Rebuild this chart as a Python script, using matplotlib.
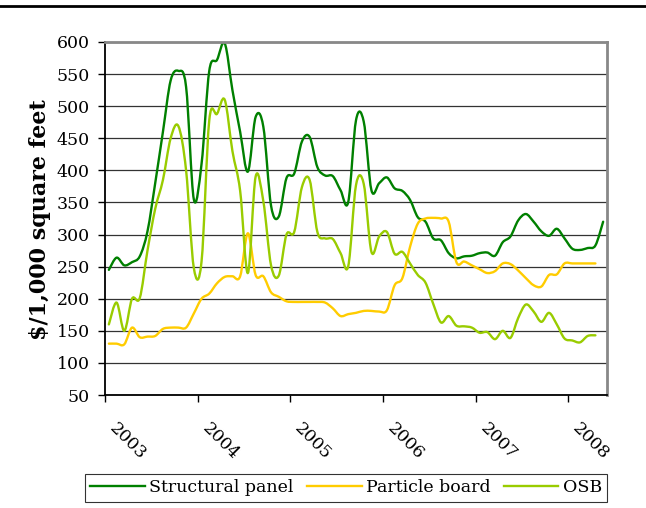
import numpy as np
import matplotlib
matplotlib.use("Agg")
import matplotlib.pyplot as plt
from matplotlib.path import Path
from matplotlib.patches import PathPatch
from matplotlib.lines import Line2D
import matplotlib.transforms as mtransforms

plt.rcParams['font.family'] = ['DejaVu Serif']

# monthly prices, Jan 2003 onwards ($/1,000 sq ft)
structural_panel = [245, 264, 252, 257, 266, 305, 380, 460, 540, 555,
                    530, 355, 410, 555, 572, 598, 525, 460, 398, 483,
                    468, 345, 328, 388, 395, 445, 452, 405, 392, 391,
                    369, 351, 478, 476, 369, 380, 389, 372, 368, 354,
                    327, 320, 294, 291, 271, 263, 266, 267, 271, 272,
                    267, 288, 297, 322, 332, 320, 305, 298, 309, 294,
                    278, 276, 279, 283, 320]
particle_board = [130, 130, 129, 155, 140, 141, 142, 153, 155, 155,
                  155, 177, 200, 208, 224, 234, 235, 235, 302, 237,
                  235, 210, 203, 196, 195, 195, 195, 195, 194, 185,
                  173, 176, 178, 181, 181, 180, 182, 221, 232, 281,
                  317, 325, 326, 325, 320, 257, 258, 252, 246, 240,
                  243, 255, 254, 244, 232, 221, 219, 237, 238, 255,
                  255, 255, 255, 255]
osb = [160, 194, 150, 200, 201, 275, 340, 385, 450, 469,
       400, 248, 258, 478, 488, 510, 430, 368, 240, 390,
       352, 252, 236, 300, 304, 374, 385, 304, 294, 293,
       271, 251, 377, 379, 273, 297, 304, 270, 273, 255,
       237, 225, 192, 163, 173, 158, 157, 155, 147, 148,
       137, 150, 139, 170, 191, 180, 164, 178, 160, 138,
       135, 132, 142, 143]

years = ['2003', '2004', '2005', '2006', '2007', '2008']
year_ticks = [0, 12, 24, 36, 48, 60]

series = [
    ('Structural panel', structural_panel, '#008000'),
    ('Particle board', particle_board, '#FFCC00'),
    ('OSB', osb, '#99CC00'),
]


def smooth_path(x, y):
    # cubic bezier through each point, Catmull-Rom style tangents
    x = np.asarray(x, float)
    y = np.asarray(y, float)
    pts = np.column_stack([x, y])
    n = len(pts)
    verts = [pts[0]]
    codes = [Path.MOVETO]
    for i in range(n - 1):
        p0 = pts[i - 1] if i > 0 else pts[i]
        p1 = pts[i]
        p2 = pts[i + 1]
        p3 = pts[i + 2] if i + 2 < n else pts[i + 1]
        c1 = p1 + (p2 - p0) / 6.0
        c2 = p2 - (p3 - p1) / 6.0
        verts += [c1, c2, p2]
        codes += [Path.CURVE4] * 3
    return Path(verts, codes)


fig = plt.figure(figsize=(6.46, 5.08), dpi=100)
ax = fig.add_axes([105 / 646, 1 - 395 / 508, 502 / 646, 353 / 508])

handles = []
for name, vals, color in series:
    xs = np.arange(len(vals)) + 0.5
    patch = PathPatch(smooth_path(xs, vals), facecolor='none', edgecolor=color,
                      lw=1.7, capstyle='round', joinstyle='round')
    ax.add_patch(patch)
    handles.append(Line2D([], [], color=color, lw=1.7, label=name))

ax.set_xlim(0, 65)
ax.set_ylim(50, 600)
ax.set_yticks(np.arange(50, 601, 50))
ax.set_xticks(year_ticks)

ax.tick_params(axis='both', labelsize=12.5, direction='out', length=5,
               width=1, color='black')
ax.tick_params(axis='y', pad=6)
ax.yaxis.grid(True, color='#333333', lw=0.9)
ax.set_axisbelow(True)

# slanted year labels pushed down and right of their ticks
ax.set_xticklabels(years, rotation=-45, ha='left', va='top',
                   rotation_mode='anchor')
offset = mtransforms.ScaledTranslation(13 / 100, -13 / 100, fig.dpi_scale_trans)
for lbl in ax.get_xticklabels():
    lbl.set_transform(lbl.get_transform() + offset)

for side in ['left', 'bottom']:
    ax.spines[side].set_color('black')
    ax.spines[side].set_linewidth(1.3)
for side in ['top', 'right']:
    ax.spines[side].set_color('#888888')
    ax.spines[side].set_linewidth(2)

ax.set_ylabel('$/1,000 square feet', fontsize=16, fontweight='bold')
ax.yaxis.set_label_coords(-0.108, 0.496)

fig.legend(handles=handles, loc='center', ncol=3,
           bbox_to_anchor=(346 / 646, 1 - 488 / 508), frameon=True,
           fancybox=False, edgecolor='black', fontsize=12.5,
           handlelength=3.16, handletextpad=0.25, columnspacing=0.75,
           borderpad=0.3)
leg = fig.legends[0]
leg.get_frame().set_linewidth(0.8)

fig.add_artist(Line2D([0, 1], [1 - 6 / 508, 1 - 6 / 508], color='black',
                      lw=2, transform=fig.transFigure))

fig.savefig('out.png', dpi=100)
